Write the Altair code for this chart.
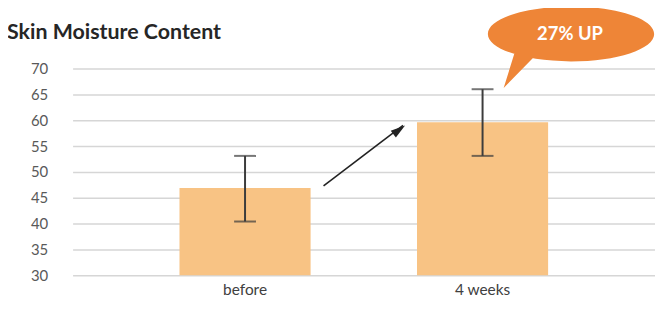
import altair as alt
import pandas as pd

# ---- data ----
categories = ["before", "4 weeks"]
values = [46.9, 59.6]
err_low = [40.4, 53.1]
err_high = [53.1, 66.0]
y_ticks = [30, 35, 40, 45, 50, 55, 60, 65, 70]
y_base = 30

# annotation anchors (data space)
arrow_from_cat = ["before"]
arrow_to_cat = ["4 weeks"]
arrow_from_val = [47.3]
arrow_to_val = [59.0]
callout_cat = ["4 weeks"]
callout_val = [76.5]
callout_text = ["27% UP"]

bars = pd.DataFrame({"cat": categories, "value": values, "lo": err_low, "hi": err_high})
arrow = pd.DataFrame({"c1": arrow_from_cat, "c2": arrow_to_cat, "v1": arrow_from_val, "v2": arrow_to_val})
callout = pd.DataFrame({"cat": callout_cat, "v": callout_val, "label": callout_text})

FONT = "Lato"

xscale = alt.Scale(domain=categories, paddingInner=0.448, paddingOuter=0.45)
yscale = alt.Scale(domain=[30, 70], nice=False, zero=False)

x_axis = alt.Axis(labelAngle=0, domain=False, ticks=False, grid=False,
                  labelFontSize=15.5, labelColor="#404040", labelFont=FONT,
                  labelPadding=7)
y_axis = alt.Axis(values=y_ticks, domain=False, ticks=False, grid=True,
                  gridColor="#d6d6d6", gridWidth=1.5, labelOverlap=False,
                  labelFontSize=15, labelColor="#595959", labelFont=FONT,
                  labelPadding=25)


def X(field):
    return alt.X(field, type="nominal", scale=xscale, sort=categories, title=None, axis=x_axis)


def Y(field):
    return alt.Y(field, type="quantitative", scale=yscale, title=None, axis=y_axis)


bar = alt.Chart(bars).mark_bar(color="#F8C384").encode(x=X("cat"), y=Y("value"), y2=alt.datum(y_base))

err_rule = alt.Chart(bars).mark_rule(color="#3c3c3c", strokeWidth=2).encode(
    x=X("cat"), y=Y("lo"), y2="hi:Q")
cap_hi = alt.Chart(bars).mark_tick(color="#3c3c3c", size=22, thickness=2).encode(
    x=X("cat"), y=Y("hi"))
cap_lo = alt.Chart(bars).mark_tick(color="#3c3c3c", size=22, thickness=2).encode(
    x=X("cat"), y=Y("lo"))

arrow_line = alt.Chart(arrow).mark_rule(color="#222222", strokeWidth=1.6,
                                        xOffset=79, x2Offset=-80).encode(
    x=X("c1"), x2="c2:N", y=Y("v1"), y2="v2:Q")
arrow_head = alt.Chart(arrow).mark_point(
    shape="M0,0 L0.5,1.7 L-0.5,1.7 Z", filled=True, color="#222222", opacity=1,
    size=300, angle=53.4, xOffset=-78).encode(x=X("c2"), y=Y("v2"))

bubble_path = ("M-1,0 A1,0.33 0 1,1 1,0 A1,0.33 0 1,1 -1,0 Z "
               "M-0.67,0.2 L-0.44,0.27 L-0.81,0.65 Z")
bubble = alt.Chart(callout).mark_point(
    shape=bubble_path, filled=True, color="#EE8537", opacity=1,
    size=28000, xOffset=89, yOffset=-1).encode(x=X("cat"), y=Y("v"))
bubble_text = alt.Chart(callout).mark_text(
    color="white", fontSize=18.5, fontWeight="bold", font=FONT, xOffset=88, yOffset=-1).encode(
    x=X("cat"), y=Y("v"), text="label:N")

chart = alt.layer(bar, err_rule, cap_hi, cap_lo, arrow_line, arrow_head, bubble, bubble_text).properties(
    width=586, height=208,
    title=alt.TitleParams("Skin Moisture Content", anchor="start", frame="group", dx=-66,
                          fontSize=21.5, fontWeight="bold", font=FONT, color="#262626",
                          offset=-37),
    autosize=alt.AutoSizeParams(type="none"),
    padding={"left": 65, "top": 60, "right": 0, "bottom": 30},
).configure_view(stroke=None)

chart.save("out.html", embed_options={"renderer": "svg", "actions": False})
